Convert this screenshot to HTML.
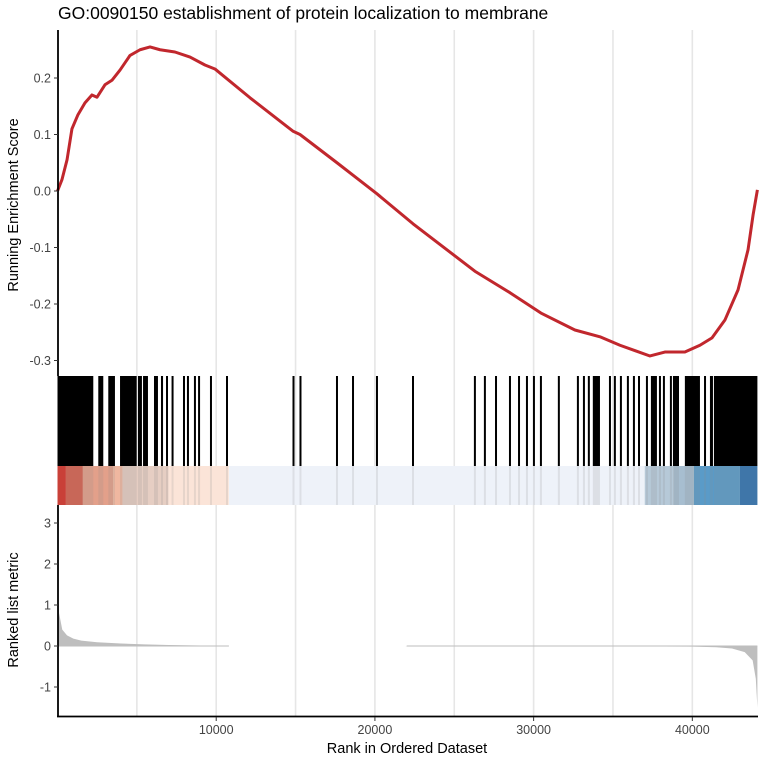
<!DOCTYPE html>
<html><head><meta charset="utf-8"><style>
body{margin:0;background:#fff;}
svg{display:block;font-family:"Liberation Sans",sans-serif;}
</style></head><body>
<svg id="chart" width="761" height="763" viewBox="0 0 761 763">
<text x="58" y="19" font-size="17.5" fill="#000">GO:0090150 establishment of protein localization to membrane</text>
<g id="grid"></g>
<g id="band"></g>
<g id="hits"></g>
<g id="metric"></g>
<g id="es"></g>
<g id="axes"></g>
<text x="18" y="205" font-size="14.5" fill="#000" transform="rotate(-90 18 205)" text-anchor="middle">Running Enrichment Score</text>
<text x="18" y="610" font-size="14.5" fill="#000" transform="rotate(-90 18 610)" text-anchor="middle">Ranked list metric</text>
<text x="407" y="753" font-size="14.5" fill="#000" text-anchor="middle">Rank in Ordered Dataset</text>
</svg>
<script>
const N = 44100;
const esRanks = [0,280,600,910,1290,1730,2170,2490,2990,3430,3940,4570,5200,5830,6460,7400,8350,9290,9920,12130,14830,15280,17610,18620,20130,22400,26300,28510,30460,32600,34180,35440,37330,38270,39530,40480,41240,42060,42880,43510,43830,44100];
const esValues = [0,0.02,0.055,0.11,0.135,0.156,0.17,0.166,0.188,0.196,0.214,0.24,0.25,0.255,0.25,0.246,0.237,0.223,0.216,0.165,0.106,0.1,0.05,0.028,-0.005,-0.058,-0.142,-0.18,-0.216,-0.246,-0.258,-0.273,-0.292,-0.285,-0.285,-0.273,-0.26,-0.228,-0.175,-0.104,-0.042,0.002];
const hitStart = [0,2570,3200,3940,5070,5390,6080,6520,6900,7250,7970,8220,8660,8920,9670,10680,14870,15310,17610,18620,20130,22400,26300,26930,27630,28510,29080,29580,30020,30460,31590,32790,33170,33480,33730,34810,35120,35500,35940,36320,36640,37140,37390,37960,38210,38650,38780,39530,40800,41110,41360];
const hitEnd   = [2255,2885,3620,4990,5320,5700,6330,6650,6900,7250,7970,8220,8660,8920,9670,10680,14870,15310,17610,18620,20130,22400,26300,26930,27630,28510,29080,29580,30020,30460,31590,32790,33170,33480,34180,34810,35120,35500,35940,36320,36640,37140,37770,37960,38210,38650,39160,40480,40800,41300,44100];
const bandStart = [0,530,1600,3500,4100,7000,10800,37000,38800,40100,43000];
const bandEnd   = [530,1600,3500,4100,7000,10800,37000,38800,40100,43000,44100];
const bandColor = ["#d73027","#d6604d","#e3a08a","#efb7a0","#e6cec3","#fbe4d8","#eef2f9","#b6c9d8","#a7bed0","#5a9bc8","#2f72b0"];
const metricRanks = [0,100,300,600,1000,1500,2500,4000,5500,7000,9000,10500,10800,21900,22000,35000,40000,41500,42500,43300,43800,44000,44100];
const metricValues = [1.45,0.8,0.4,0.26,0.18,0.13,0.09,0.06,0.04,0.025,0.012,0.006,0,0,-0.003,-0.006,-0.015,-0.03,-0.06,-0.15,-0.35,-0.8,-1.5];
const xTicks = [10000,20000,30000,40000];
const esTicks = [0.2,0.1,0.0,-0.1,-0.2,-0.3];
const esTickLabels = ["0.2","0.1","0.0","-0.1","-0.2","-0.3"];
const mTicks = [3,2,1,0,-1];

const NS="http://www.w3.org/2000/svg";
const X0=57.5, X1=757.4;
const x = r => X0 + r/N*(X1-X0);
const yES = v => 191 - v*565;
const yM = v => 646 - v*41;
function mk(tag, attrs, parent){const e=document.createElementNS(NS,tag);for(const k in attrs)e.setAttribute(k,attrs[k]);parent.appendChild(e);return e;}
const g=id=>document.getElementById(id);

for(let r=5000;r<N;r+=5000){
  const l=mk('line',{x1:x(r),x2:x(r),y1:30,y2:716,stroke:'#e6e6e6','stroke-width':1.6},g('grid'));
  
  
}
for(let i=0;i<bandStart.length;i++){
  const rc=mk('rect',{x:x(bandStart[i]),y:466,width:x(bandEnd[i])-x(bandStart[i]),height:39,fill:bandColor[i]},g('band'));
  
  
}
for(let i=0;i<hitStart.length;i++){
  let a=x(hitStart[i]), b=x(hitEnd[i]);
  if(b-a<2){const c=(a+b)/2;a=c-1;b=c+1;}
  const h=mk('rect',{x:a,y:376,width:b-a,height:90,fill:'#000'},g('hits'));
  
  
  const s=mk('rect',{x:a,y:466,width:b-a,height:39,fill:'#888','fill-opacity':0.18},g('hits'));
  
  
}
let d='M'+x(metricRanks[0])+','+yM(0);
for(let i=0;i<metricRanks.length;i++) d+=' L'+x(metricRanks[i]).toFixed(2)+','+yM(metricValues[i]).toFixed(2);
d+=' L'+x(metricRanks[metricRanks.length-1])+','+yM(0)+' Z';
const ma=mk('path',{d:d,fill:'#bebebe',stroke:'none'},g('metric'));


const zl=mk('line',{x1:x(0),x2:x(10800),y1:yM(0),y2:yM(0),stroke:'#bdbdbd','stroke-width':1},g('metric'));


const zl2=mk('line',{x1:x(22000),x2:x(N),y1:yM(0),y2:yM(0),stroke:'#bdbdbd','stroke-width':1},g('metric'));


const pts=esRanks.map((r,i)=>x(r).toFixed(2)+','+yES(esValues[i]).toFixed(2)).join(' ');
const pl=mk('polyline',{points:pts,fill:'none',stroke:'#c1272d','stroke-width':3,'stroke-linejoin':'round'},g('es'));


const ax=g('axes');
mk('line',{x1:58,x2:58,y1:30,y2:376,stroke:'#000','stroke-width':1.8},ax);
mk('line',{x1:58,x2:58,y1:505,y2:717,stroke:'#000','stroke-width':1.8},ax);
mk('line',{x1:57,x2:758,y1:716.5,y2:716.5,stroke:'#000','stroke-width':1.8},ax);
esTicks.forEach((v,i)=>{
  mk('line',{x1:54,x2:58,y1:yES(v),y2:yES(v),stroke:'#333','stroke-width':1},ax);
  const t=mk('text',{x:51,y:yES(v)+4.5,'font-size':12.5,fill:'#444','text-anchor':'end'},ax);
  t.textContent=esTickLabels[i];
  
  
});
mTicks.forEach(v=>{
  mk('line',{x1:54,x2:58,y1:yM(v),y2:yM(v),stroke:'#333','stroke-width':1},ax);
  const t=mk('text',{x:51,y:yM(v)+4.5,'font-size':12.5,fill:'#444','text-anchor':'end'},ax);
  t.textContent=String(v);
  
  
});
xTicks.forEach(v=>{
  mk('line',{x1:x(v),x2:x(v),y1:717,y2:721,stroke:'#333','stroke-width':1},ax);
  const t=mk('text',{x:x(v),y:734,'font-size':12.5,fill:'#444','text-anchor':'middle'},ax);
  t.textContent=String(v);
  
  
});
</script>
</body></html>
